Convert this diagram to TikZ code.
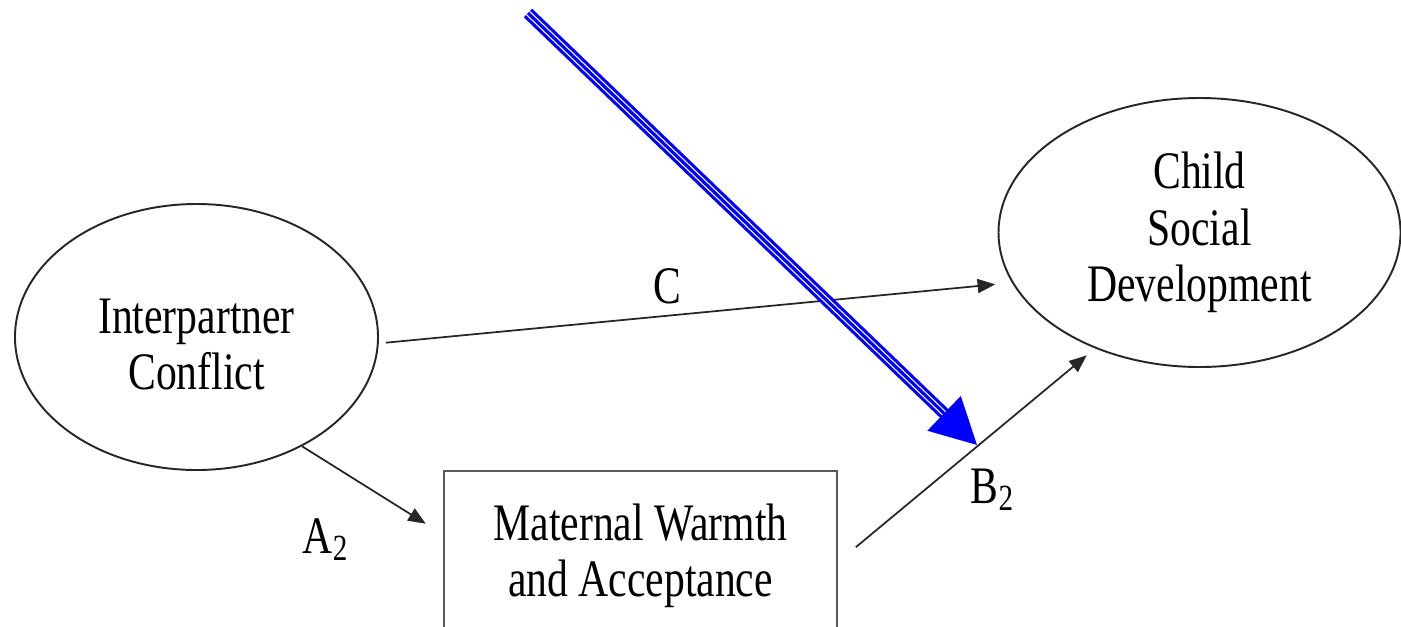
\documentclass[tikz,border=0pt]{standalone}
\usepackage{fontspec}
\setmainfont{Liberation Serif}[FakeStretch=0.79]
\usetikzlibrary{arrows.meta,shapes.geometric}

\begin{document}
\begin{tikzpicture}[font=\fontsize{15}{16}\selectfont,>={Triangle[length=5pt,width=4pt]},
 latent/.style={draw=black!85,line width=.55pt,ellipse,align=center,inner sep=0pt},
 observed/.style={draw=black!65,line width=.7pt,minimum width=3.93cm,minimum height=1.7cm,align=center},
 effect/.style={draw=black!85,line width=.5pt,->},
 tag/.style={anchor=base west,inner sep=0pt},
 pointer/.style={blue,line width=.9pt,-{Triangle[length=13pt,width=13.5pt]},
   preaction={draw=blue,line width=3.4pt,-,shorten >=9pt},
   preaction={draw=white,line width=1.6pt,-,shorten >=9pt}}]
\useasboundingbox (0,0) rectangle (14.01,-6.26);
\clip (0,0) rectangle (14.01,-6.26);
% constructs
\node[latent,minimum width=3.63cm,minimum height=2.66cm] (conflict) at (1.965,-3.37) {Interpartner\rule{0pt}{14pt}\\Conflict};
\node[latent,minimum width=4.02cm,minimum height=2.69cm] (child) at (11.995,-2.325) {Child\\Social\\Development};
\node[observed] (warmth) at (6.405,-5.56) {Maternal Warmth\\and Acceptance};
% paths
\draw[effect,shorten <=2pt,shorten >=4.8pt] (conflict.-2) -- (child.195);
\draw[effect,shorten >=5.7pt] (conflict.-46) -- ([yshift=-6.46mm]warmth.north west);
\draw[effect,shorten <=6.5pt,shorten >=3.1pt] ([yshift=-9.2mm]warmth.north east) -- (child.228);
\node[tag] (labC) at (6.53,-3.03) {C};
\node[tag] (labA) at (3.02,-5.53) {A\textsubscript{2}};
\node[tag] (labB) at (9.70,-5.03) {B\textsubscript{2}};
% pointer
\coordinate (pstart) at (5.28,-0.13);
\coordinate (ptip) at (9.77,-4.45);
\draw[pointer] (pstart) -- (ptip);
\end{tikzpicture}
\end{document}
